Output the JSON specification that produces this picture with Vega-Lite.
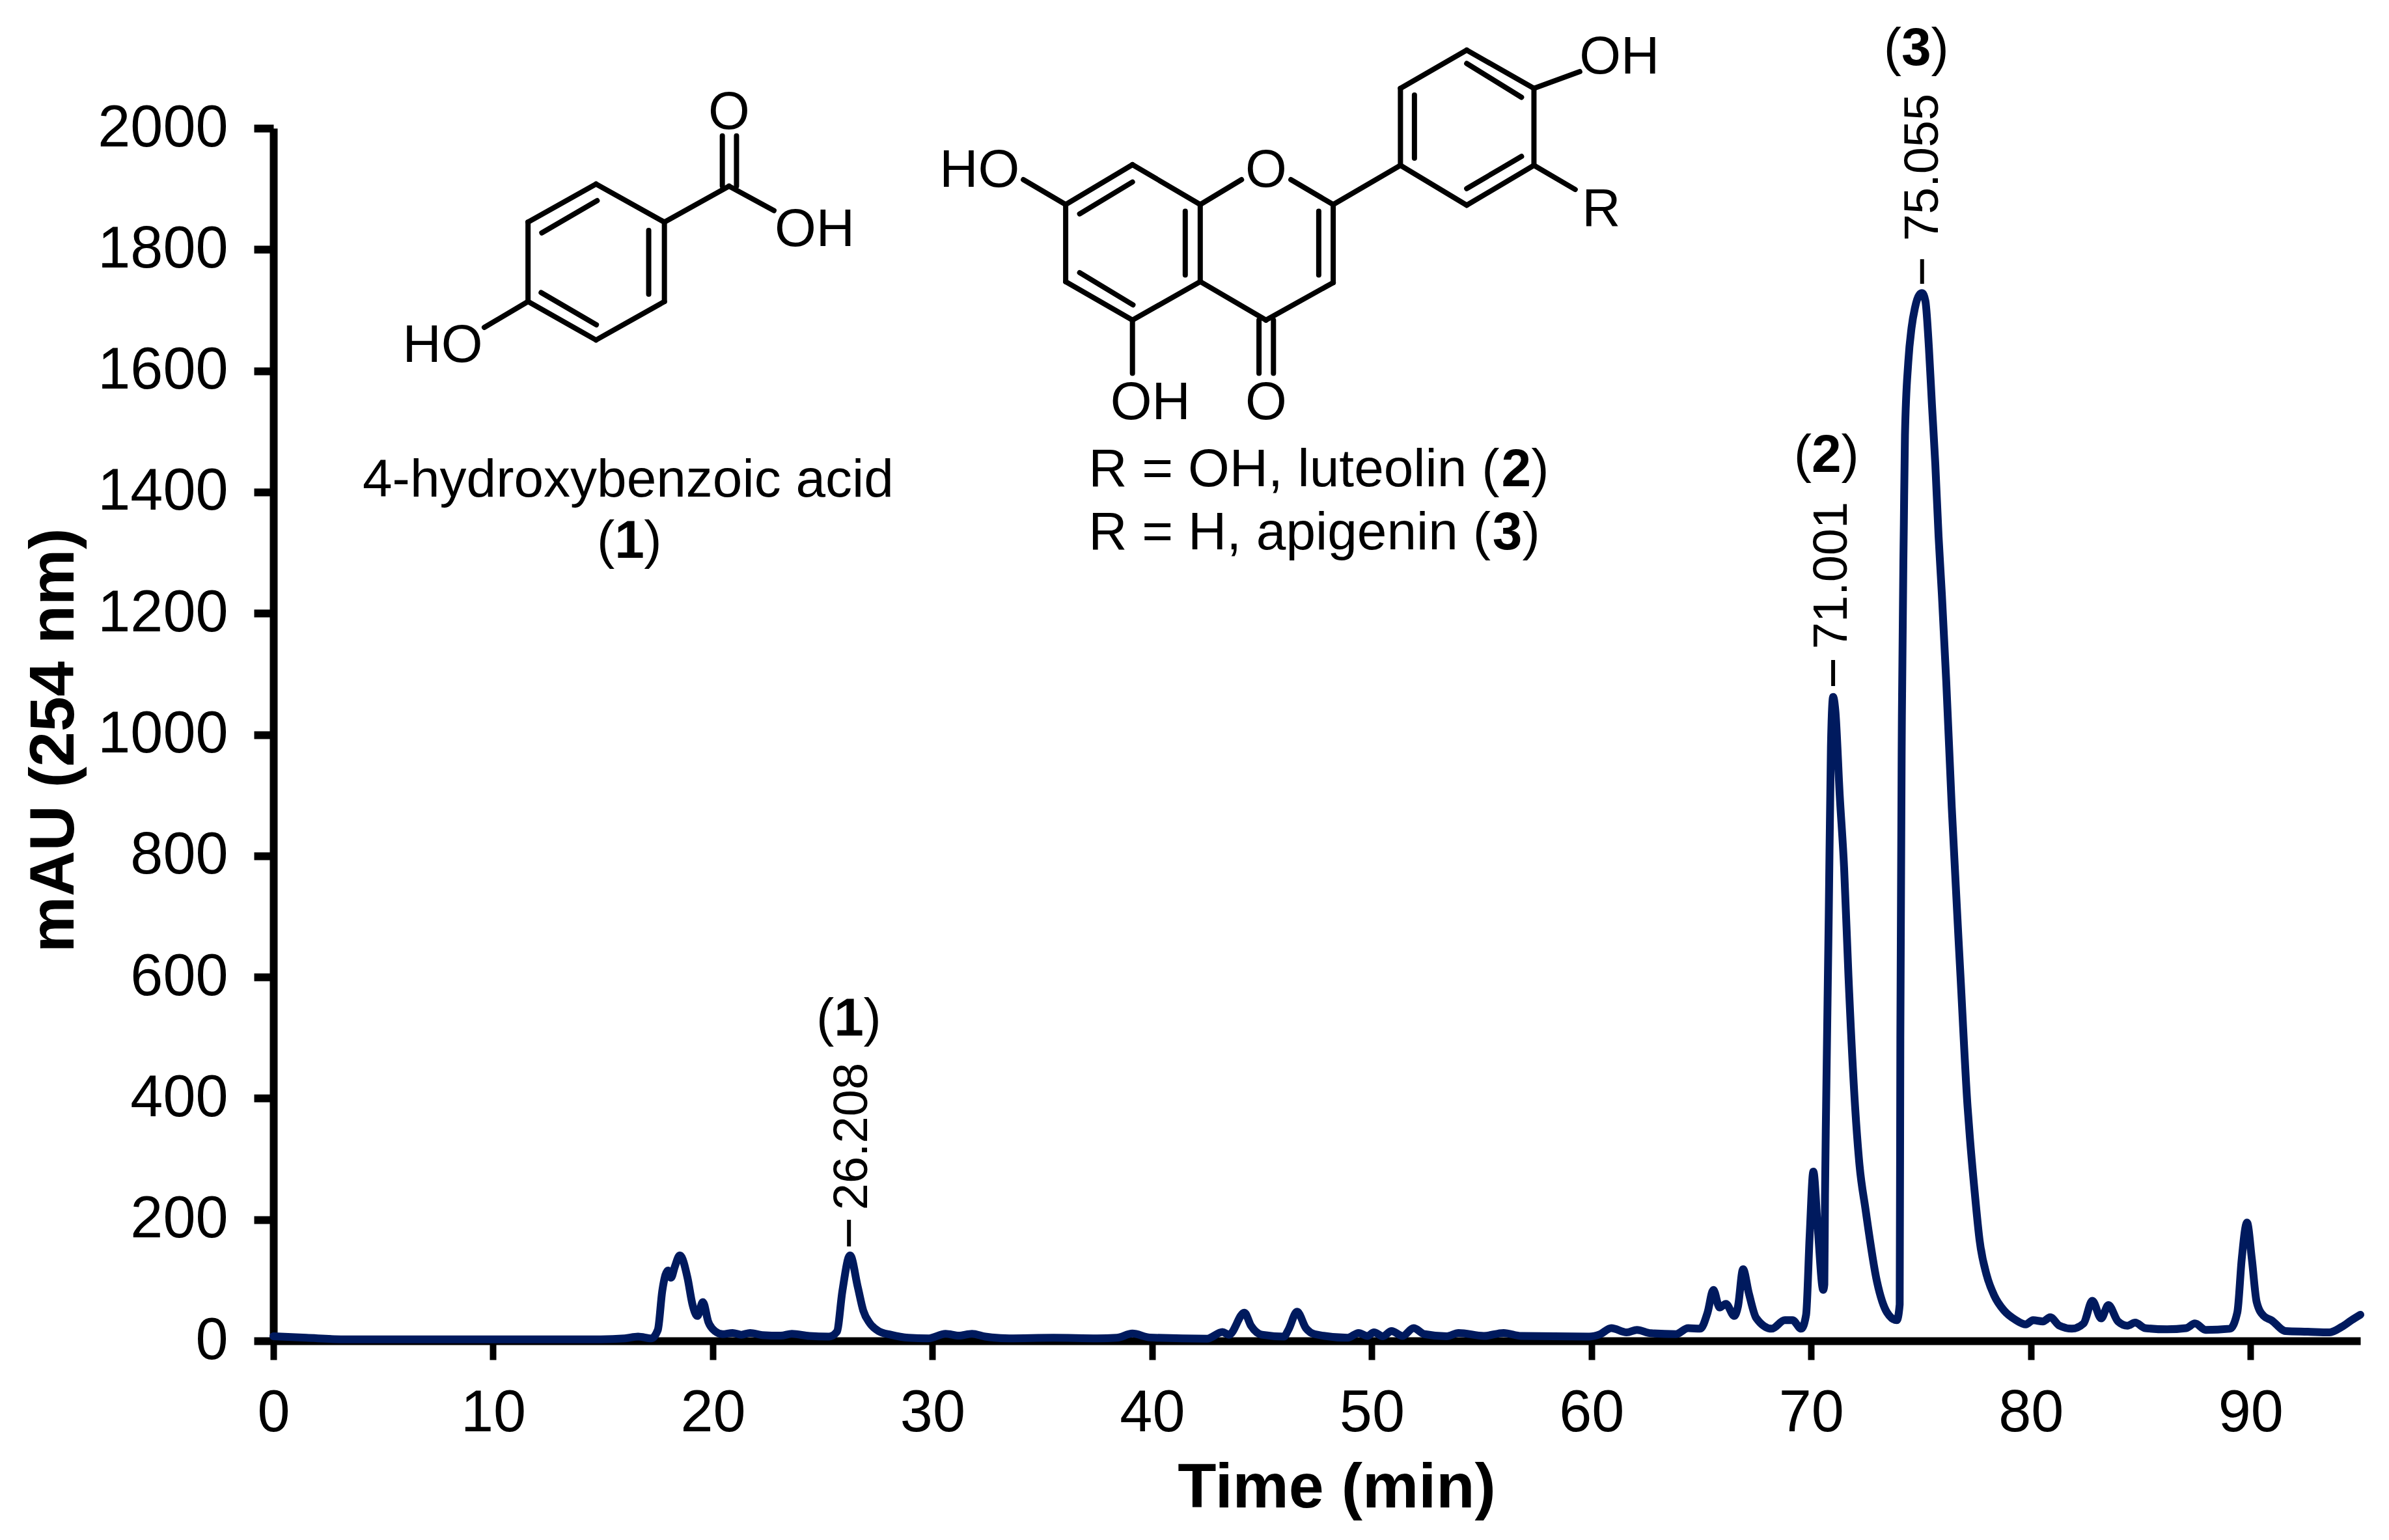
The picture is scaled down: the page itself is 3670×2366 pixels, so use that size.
{"$schema":"https://vega.github.io/schema/vega-lite/v6.json","width":3206,"height":1863,"autosize":"none","padding":{"left":420,"top":197,"right":44,"bottom":306},"background":"white","config":{"view":{"stroke":null},"font":"Liberation Sans"},
"datasets":{
"bonds":[
{"t":14.687,"m":1908,"t2":17.799,"m2":1845.1},{"t":17.799,"m":1845.1,"t2":17.799,"m2":1714.1},{"t":17.799,"m":1714.1,"t2":14.687,"m2":1650.7},{"t":14.687,"m":1650.7,"t2":11.591,"m2":1714.1},{"t":11.591,"m":1714.1,"t2":11.591,"m2":1845.1},{"t":11.591,"m":1845.1,"t2":14.687,"m2":1908},
{"t":17.799,"m":1845.1,"t2":20.741,"m2":1904.5},{"t":20.436,"m":1904.5,"t2":20.436,"m2":1987.4},{"t":21.081,"m":1904.5,"t2":21.081,"m2":1987.4},{"t":20.741,"m":1904.5,"t2":22.785,"m2":1864.2},{"t":11.591,"m":1714.1,"t2":9.6,"m2":1671.5},
{"t":14.738,"m":1880.6,"t2":12.219,"m2":1827.5},{"t":17.084,"m":1831.4,"t2":17.084,"m2":1726.2},{"t":12.187,"m":1728.9,"t2":14.702,"m2":1675.8},
{"t":36.065,"m":1874.1,"t2":39.105,"m2":1939.9},{"t":39.105,"m":1939.9,"t2":42.19,"m2":1874.1},{"t":42.19,"m":1874.1,"t2":42.19,"m2":1747},{"t":42.19,"m":1747,"t2":39.105,"m2":1683.5},{"t":39.105,"m":1683.5,"t2":36.065,"m2":1747},{"t":36.065,"m":1747,"t2":36.065,"m2":1874.1},
{"t":42.19,"m":1874.1,"t2":44.07,"m2":1915.2},{"t":46.317,"m":1915.2,"t2":48.243,"m2":1874.1},{"t":48.243,"m":1874.1,"t2":48.243,"m2":1745.4},{"t":48.243,"m":1745.4,"t2":45.183,"m2":1683.5},{"t":45.183,"m":1683.5,"t2":42.19,"m2":1747},
{"t":44.865,"m":1683.5,"t2":44.865,"m2":1595.8},{"t":45.523,"m":1683.5,"t2":45.523,"m2":1595.8},{"t":39.105,"m":1683.5,"t2":39.105,"m2":1595.8},{"t":36.065,"m":1874.1,"t2":34.139,"m2":1915.2},
{"t":36.702,"m":1858.7,"t2":39.105,"m2":1911.3},{"t":36.702,"m":1761.8,"t2":39.129,"m2":1708.6},{"t":41.508,"m":1863.1,"t2":41.508,"m2":1758},{"t":47.585,"m":1863.1,"t2":47.585,"m2":1758},
{"t":48.243,"m":1874.1,"t2":51.304,"m2":1938.8},{"t":51.304,"m":1938.8,"t2":51.304,"m2":2065.8},{"t":51.304,"m":2065.8,"t2":54.32,"m2":2128.8},{"t":54.32,"m":2128.8,"t2":57.381,"m2":2065.8},{"t":57.381,"m":2065.8,"t2":57.381,"m2":1938.8},{"t":57.381,"m":1938.8,"t2":54.32,"m2":1873},{"t":54.32,"m":1873,"t2":51.304,"m2":1938.8},
{"t":51.941,"m":2054.7,"t2":51.941,"m2":1950.7},{"t":54.32,"m":1900.4,"t2":56.815,"m2":1953.5},{"t":54.32,"m":2106.8,"t2":56.815,"m2":2051},{"t":57.381,"m":1938.8,"t2":59.259,"m2":1899},{"t":57.381,"m":2065.8,"t2":59.467,"m2":2093.4}
],
"peakTicks":[{"t":26.2,"m":199.7,"m2":155.7},{"t":71,"m":1122.9,"m2":1080},{"t":75.05,"m":1784,"m2":1743.4}],
"regular":[
{"t":20.741,"m":1999,"s":"O"},{"t":24.637,"m":1806.2,"s":"OH"},{"t":7.704,"m":1614.6,"s":"HO"},{"t":16.148,"m":1392.4,"s":"4-hydroxybenzoic acid"},{"t":15.132,"m":1291.5,"s":"("},{"t":17.274,"m":1291.5,"s":")"},
{"t":32.142,"m":1903.4,"s":"HO"},{"t":45.185,"m":1903.4,"s":"O"},{"t":60.444,"m":1838.6,"s":"R"},{"t":39.92,"m":1520.1,"s":"OH"},{"t":45.185,"m":1520.1,"s":"O"},{"t":61.274,"m":2090.2,"s":"OH"},
{"t":46.46,"m":1409.6,"s":"R = OH, luteolin ("},{"t":57.659,"m":1409.6,"s":")"},{"t":46.26,"m":1305.4,"s":"R = H, apigenin ("},{"t":57.253,"m":1305.4,"s":")"},
{"t":25.117,"m":503.5,"s":"("},{"t":27.268,"m":503.5,"s":")"},{"t":69.62,"m":1433.2,"s":"("},{"t":71.772,"m":1433.2,"s":")"},{"t":73.71,"m":2104.1,"s":"("},{"t":75.86,"m":2104.1,"s":")"}
],
"bold":[{"t":16.207,"m":1291.5,"s":"1"},{"t":56.578,"m":1409.6,"s":"2"},{"t":56.172,"m":1305.4,"s":"3"},{"t":26.193,"m":503.5,"s":"1"},{"t":70.696,"m":1433.2,"s":"2"},{"t":74.785,"m":2104.1,"s":"3"}],
"retention":[{"t":27.02,"m":337,"s":"26.208"},{"t":71.62,"m":1262.5,"s":"71.001"},{"t":75.76,"m":1935.6,"s":"75.055"}],
"trace":[{"t":0,"m":7.5},{"t":1.5,"m":5},{"t":3.2,"m":2.5},{"t":8,"m":2.5},{"t":14.9,"m":2.5},{"t":16,"m":4},{"t":16.6,"m":7},{"t":17.2,"m":4},{"t":17.5,"m":18},{"t":17.7,"m":82},{"t":17.96,"m":116},{"t":18.1,"m":104},{"t":18.27,"m":122},{"t":18.5,"m":141},{"t":18.85,"m":104},{"t":19.07,"m":61},{"t":19.3,"m":41},{"t":19.55,"m":64},{"t":19.8,"m":31},{"t":20.1,"m":16},{"t":20.45,"m":11},{"t":20.9,"m":13},{"t":21.3,"m":10},{"t":21.7,"m":13},{"t":22.25,"m":9.5},{"t":23.1,"m":8.5},{"t":23.6,"m":11.5},{"t":24.4,"m":8},{"t":25.3,"m":7},{"t":25.65,"m":15},{"t":25.9,"m":82},{"t":26.25,"m":141},{"t":26.6,"m":89},{"t":26.85,"m":50},{"t":27.15,"m":29},{"t":27.55,"m":16},{"t":28.1,"m":10},{"t":28.9,"m":5},{"t":29.8,"m":4},{"t":30.6,"m":11.5},{"t":31.2,"m":8.5},{"t":31.8,"m":11.5},{"t":32.4,"m":7},{"t":33.5,"m":4},{"t":35.5,"m":5},{"t":37.5,"m":4},{"t":38.4,"m":5},{"t":39.1,"m":12},{"t":39.9,"m":5.5},{"t":42.5,"m":3.5},{"t":43.2,"m":14.5},{"t":43.5,"m":10},{"t":44.2,"m":46.5},{"t":44.5,"m":25},{"t":45,"m":10},{"t":46,"m":7},{"t":46.2,"m":18},{"t":46.6,"m":48},{"t":47,"m":21},{"t":47.4,"m":11},{"t":48.9,"m":5},{"t":49.4,"m":13},{"t":49.8,"m":8},{"t":50.1,"m":14},{"t":50.5,"m":7.5},{"t":50.9,"m":16},{"t":51.4,"m":8},{"t":51.9,"m":21},{"t":52.4,"m":11},{"t":53.4,"m":7.5},{"t":53.95,"m":13},{"t":55.1,"m":8},{"t":56,"m":13},{"t":56.8,"m":8},{"t":59.9,"m":7},{"t":60.4,"m":11},{"t":60.9,"m":21},{"t":61.6,"m":14},{"t":62.07,"m":18},{"t":62.7,"m":12.5},{"t":63.84,"m":11},{"t":64.4,"m":21},{"t":64.95,"m":20},{"t":65.28,"m":46},{"t":65.55,"m":84},{"t":65.83,"m":55},{"t":66.12,"m":61},{"t":66.5,"m":41},{"t":66.67,"m":57},{"t":66.9,"m":118},{"t":67.16,"m":79},{"t":67.5,"m":37.5},{"t":68.2,"m":20},{"t":68.8,"m":34},{"t":69.15,"m":34},{"t":69.55,"m":20},{"t":69.77,"m":43},{"t":69.93,"m":172},{"t":70.1,"m":279},{"t":70.3,"m":186},{"t":70.55,"m":84},{"t":70.6,"m":93},{"t":70.63,"m":240},{"t":70.68,"m":386},{"t":70.8,"m":700},{"t":70.9,"m":980},{"t":71,"m":1062},{"t":71.1,"m":1040},{"t":71.3,"m":900},{"t":71.5,"m":780},{"t":71.7,"m":600},{"t":72,"m":386},{"t":72.2,"m":290},{"t":72.47,"m":218},{"t":73,"m":97},{"t":73.45,"m":47},{"t":73.9,"m":34},{"t":74.03,"m":60},{"t":74.06,"m":500},{"t":74.13,"m":1030},{"t":74.22,"m":1350},{"t":74.27,"m":1494},{"t":74.42,"m":1614},{"t":74.57,"m":1671},{"t":74.72,"m":1703},{"t":74.92,"m":1725},{"t":75.05,"m":1728},{"t":75.2,"m":1715},{"t":75.36,"m":1638},{"t":75.5,"m":1543},{"t":75.65,"m":1447},{"t":75.8,"m":1327},{"t":75.95,"m":1231},{"t":76.15,"m":1087},{"t":76.4,"m":880},{"t":76.8,"m":600},{"t":77.12,"m":386},{"t":77.23,"m":333},{"t":77.45,"m":243},{"t":77.67,"m":165},{"t":78,"m":107},{"t":78.33,"m":75},{"t":78.78,"m":50},{"t":79.33,"m":34},{"t":79.77,"m":27},{"t":80.1,"m":34},{"t":80.55,"m":32},{"t":80.88,"m":39},{"t":81.3,"m":25},{"t":81.87,"m":20},{"t":82.4,"m":28.6},{"t":82.8,"m":66},{"t":83.2,"m":37},{"t":83.53,"m":59},{"t":83.97,"m":32},{"t":84.4,"m":25},{"t":84.75,"m":30},{"t":85.2,"m":21},{"t":86.2,"m":19},{"t":87.07,"m":21},{"t":87.47,"m":28.6},{"t":87.96,"m":18},{"t":89.06,"m":20},{"t":89.4,"m":47},{"t":89.6,"m":135},{"t":89.84,"m":195},{"t":90.06,"m":135},{"t":90.28,"m":64},{"t":90.6,"m":41},{"t":90.95,"m":34},{"t":91.6,"m":16},{"t":92.6,"m":15},{"t":93.6,"m":14},{"t":94.15,"m":23},{"t":94.6,"m":34},{"t":95,"m":43}]
},
"layer":[
{"data":{"name":"trace"},"mark":{"type":"line","stroke":"#001A5E","strokeWidth":12,"interpolate":"monotone","strokeJoin":"round","strokeCap":"round"},
"encoding":{"x":{"field":"t","type":"quantitative","scale":{"domain":[0,95],"nice":false},"axis":{"title":"Time (min)","values":[0,10,20,30,40,50,60,70,80,90],"format":"d","grid":false,"domainColor":"black","domainWidth":12,"tickColor":"black","tickWidth":10,"tickSize":29,"labelFont":"Liberation Sans","labelFontSize":90,"labelColor":"black","labelPadding":38,"labelBaseline":"top","labelFlush":false,"titleFont":"Liberation Sans","titleFontSize":97,"titleFontWeight":"bold","titleColor":"black","titleX":1633,"titleY":255,"titleBaseline":"alphabetic"}},
"y":{"field":"m","type":"quantitative","scale":{"domain":[0,2000],"nice":false},"axis":{"title":"mAU (254 nm)","values":[0,200,400,600,800,1000,1200,1400,1600,1800,2000],"format":"d","grid":false,"domainColor":"black","domainWidth":12,"tickColor":"black","tickWidth":12,"tickSize":30,"labelFont":"Liberation Sans","labelFontSize":90,"labelColor":"black","labelPadding":40,"labelLimit":400,"labelFlush":false,"labelOverlap":false,"titleFont":"Liberation Sans","titleFontSize":97,"titleFontWeight":"bold","titleColor":"black","titleX":-308,"titleY":940,"titleAngle":270,"titleBaseline":"alphabetic"}}}},
{"data":{"name":"bonds"},"mark":{"type":"rule","color":"black","strokeWidth":8,"strokeCap":"round"},"encoding":{"x":{"field":"t","type":"quantitative"},"y":{"field":"m","type":"quantitative"},"x2":{"field":"t2"},"y2":{"field":"m2"}}},
{"data":{"name":"peakTicks"},"mark":{"type":"rule","color":"black","strokeWidth":6},"encoding":{"x":{"field":"t","type":"quantitative"},"y":{"field":"m","type":"quantitative"},"y2":{"field":"m2"}}},
{"data":{"name":"regular"},"mark":{"type":"text","font":"Liberation Sans","fontSize":82,"color":"black","align":"center","baseline":"alphabetic"},"encoding":{"x":{"field":"t","type":"quantitative"},"y":{"field":"m","type":"quantitative"},"text":{"field":"s"}}},
{"data":{"name":"bold"},"mark":{"type":"text","font":"Liberation Sans","fontSize":82,"fontWeight":"bold","color":"black","align":"center","baseline":"alphabetic"},"encoding":{"x":{"field":"t","type":"quantitative"},"y":{"field":"m","type":"quantitative"},"text":{"field":"s"}}},
{"data":{"name":"retention"},"mark":{"type":"text","font":"Liberation Sans","fontSize":74,"color":"black","align":"center","baseline":"alphabetic","angle":270},"encoding":{"x":{"field":"t","type":"quantitative"},"y":{"field":"m","type":"quantitative"},"text":{"field":"s"}}}
]}
